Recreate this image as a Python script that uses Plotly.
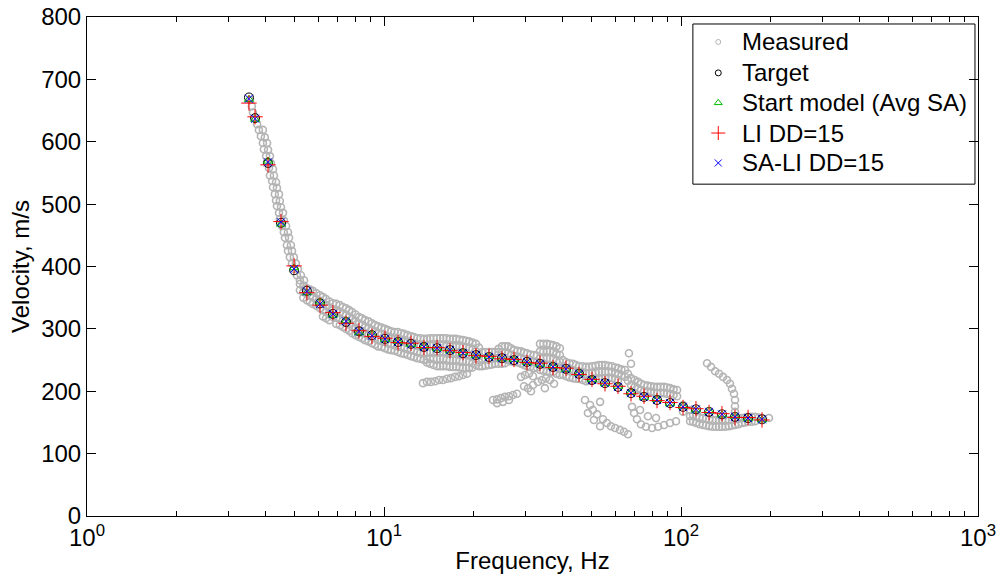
import plotly.graph_objects as go

# ---------------- model dispersion curves ----------------
model_freq = [3.51, 3.68, 4.07, 4.50, 4.98, 5.50, 6.09, 6.73, 7.45, 8.24,
              9.11, 10.08, 11.15, 12.33, 13.63, 15.09, 16.68, 18.45, 20.40, 22.57,
              24.96, 27.40, 30.30, 33.51, 37.07, 41.00, 45.35, 50.15, 55.47, 61.36,
              67.86, 75.06, 83.02, 91.83, 101.6, 112.3, 124.3, 137.4, 152.0, 168.2,
              187.4]
target_vel = [671, 638, 566, 470, 394, 361, 341, 324, 311, 296,
              290, 284, 279, 276, 271, 269, 266, 261, 258, 255,
              253, 250, 247, 244, 239, 236, 228, 218, 213, 207,
              197, 191, 186, 181, 175, 171, 167, 163, 159, 157, 155]
start_vel = [668, 636, 569, 468, 398, 358, 343, 322, 313, 294,
             291, 283, 280, 275, 272, 268, 265, 262, 257, 256,
             252, 251, 246, 243, 240, 235, 229, 219, 212, 208,
             198, 190, 187, 180, 176, 170, 168, 162, 160, 156, 154]
li_vel = [662, 640, 563, 472, 401, 358, 338, 326, 309, 297,
          288, 285, 278, 277, 270, 270, 265, 262, 257, 256,
          252, 251, 246, 245, 238, 237, 227, 219, 212, 208,
          196, 192, 185, 182, 174, 172, 166, 164, 158, 158, 154]
sali_vel = [669, 637, 567, 471, 396, 360, 340, 324, 312, 296,
            289, 284, 279, 275, 271, 269, 266, 261, 258, 255,
            253, 250, 247, 244, 239, 236, 228, 218, 213, 207,
            197, 191, 186, 181, 175, 171, 167, 163, 159, 157, 155]

# ---------------- measured dispersion data ----------------
# steep low-frequency branch (two neighbouring picks)
steep_f_a = [3.54, 3.59, 3.62, 3.68, 3.74, 3.79, 3.85, 3.91, 3.94, 4.01,
             4.04, 4.10, 4.13, 4.20, 4.23, 4.29, 4.33, 4.36, 4.43, 4.46,
             4.53, 4.60, 4.64, 4.71, 4.75, 4.82, 4.90, 4.97, 5.09, 5.21, 5.38]
steep_v_a = [667, 657, 647, 638, 628, 619, 609, 598, 588, 577,
             567, 558, 546, 537, 527, 516, 506, 497, 486, 476,
             465, 455, 446, 434, 425, 415, 405, 396, 386, 378, 369]
steep_f_b = [3.91, 3.97, 4.04, 4.07, 4.13, 4.16, 4.23, 4.26, 4.33, 4.36,
             4.43, 4.46, 4.50, 4.57, 4.60, 4.68, 4.75, 4.79, 4.86, 4.90,
             4.97, 5.05, 5.13, 5.25, 5.38]
steep_v_b = [619, 607, 598, 587, 577, 566, 556, 546, 535, 526,
             516, 505, 495, 486, 474, 465, 455, 446, 434, 425,
             415, 405, 396, 386, 378]

# fundamental-mode band: picks at each frequency
band_freq = [5.21, 5.50, 5.76, 6.09, 6.38, 6.73, 7.10, 7.45, 7.81, 8.24,
             8.63, 9.11, 9.54, 10.08, 10.56, 11.15, 11.68, 12.33, 12.92, 13.63,
             14.28, 15.09, 15.81, 16.68, 17.48, 18.45, 19.33, 20.40, 21.37, 22.57,
             23.65, 24.96, 26.15, 27.40, 28.93, 30.30, 31.99, 33.51, 35.4, 37.07,
             39.1, 41.00, 43.3, 45.35, 47.9, 50.15, 53.0, 55.47, 58.6, 61.36,
             64.8, 67.86, 71.7, 75.06, 79.3, 83.02, 87.7, 91.83, 97.0, 101.6,
             107.3, 112.3, 118.6, 124.3, 131.3, 137.4, 145.1, 152.0, 160.5, 168.2,
             177.6, 187.4, 197.7]
band_vel = [[372, 362], [365, 356, 346], [361, 351, 340], [354, 345, 333],
            [348, 338, 327, 317], [341, 330, 319], [338, 327, 316, 306],
            [333, 322, 311, 300], [327, 316, 304, 293], [319, 308, 296, 287],
            [314, 303, 292, 282], [309, 298, 287, 277], [304, 293, 282, 272],
            [300, 288, 279, 269], [296, 285, 276, 266], [295, 284, 272, 263],
            [292, 280, 269, 260], [288, 277, 266, 256], [285, 274, 263, 253],
            [284, 272, 261, 250], [285, 274, 263, 252, 244], [285, 274, 263, 252, 240],
            [285, 274, 263, 252, 240], [284, 272, 261, 250, 239], [284, 272, 261, 250, 239],
            [282, 271, 260, 248, 237], [280, 269, 258, 247, 237], [276, 264, 253, 242],
            [263, 252, 240], [263, 252, 242], [263, 253, 244], [272, 263, 253, 244],
            [272, 261, 250], [266, 256, 247], [264, 253, 244], [261, 250, 240],
            [258, 247, 237], [276, 264, 253, 244, 234], [276, 264, 253, 242, 232],
            [274, 263, 252, 240, 231], [269, 258, 247, 236, 226], [247, 236, 224],
            [244, 232, 221], [240, 231, 220], [239, 228, 216], [240, 229, 218],
            [242, 231, 220], [242, 231, 221], [240, 231, 221], [237, 228, 218],
            [234, 223], [221, 210], [215, 204], [210, 200], [208, 199],
            [207, 197], [207, 197], [205, 196], [202, 192], [178, 167],
            [170, 160, 152], [160, 149], [157, 146], [155, 144], [154, 143],
            [154, 143], [154, 144], [155, 146], [157, 149], [159, 151],
            [159, 152], [157], [157]]

# picks at the intermediate frequencies of the same band
band_freq_mid = [5.35, 5.63, 5.92, 6.23, 6.55, 6.91, 7.27, 7.63, 8.02, 8.43,
                 8.87, 9.32, 9.81, 10.32, 10.85, 11.41, 12.0, 12.62, 13.27, 13.95,
                 14.68, 15.45, 16.24, 17.08, 17.96, 18.89, 19.86, 20.88, 21.96, 23.1,
                 24.3, 25.55, 26.77, 28.15, 29.6, 31.1, 32.7, 34.4, 36.2, 38.1,
                 40.0, 42.1, 44.3, 46.6, 49.0, 51.6, 54.2, 57.0, 60.0, 63.0,
                 66.3, 69.8, 73.4, 77.1, 81.1, 85.3, 89.7, 94.4,
                 109.8, 115.4, 121.4, 127.7, 134.3, 141.2, 148.5, 156.2, 164.3, 172.8,
                 182.4]
band_vel_mid = [[368, 359, 350], [363, 353, 343], [357, 348, 337], [351, 341, 330, 320],
                [344, 334, 323, 314], [340, 329, 318, 308], [335, 324, 313, 303],
                [330, 319, 308, 297], [323, 312, 300, 290], [317, 306, 294, 285],
                [312, 301, 290, 280], [306, 296, 285, 275], [302, 291, 281, 271],
                [298, 287, 277, 267], [295, 284, 274, 265], [293, 282, 271, 261],
                [290, 279, 268, 258], [287, 276, 265, 255], [285, 273, 262, 252],
                [284, 273, 262, 251, 246], [285, 274, 263, 252, 242],
                [285, 274, 263, 252, 240], [285, 273, 262, 251, 240],
                [284, 272, 261, 250, 239], [283, 272, 261, 249, 238],
                [281, 270, 259, 248, 237], [278, 267, 256, 245, 238],
                [270, 258, 247, 240], [263, 252, 241], [263, 252, 243],
                [268, 263, 253, 244], [272, 262, 252, 245], [269, 258, 248],
                [265, 255, 246], [262, 251, 242], [259, 249, 239], [257, 247, 238],
                [276, 264, 253, 243, 233], [275, 264, 252, 241, 231],
                [272, 260, 249, 238, 228], [250, 239, 227], [245, 234, 222],
                [242, 231, 220], [240, 229, 218], [239, 229, 217], [241, 230, 219],
                [242, 231, 220], [241, 231, 221], [238, 229, 219], [235, 225],
                [228, 217], [218, 207], [212, 202], [209, 199], [207, 198],
                [207, 197], [206, 196], [203, 194],
                [162, 151], [158, 147], [156, 145], [154, 143], [154, 143],
                [154, 143], [154, 145], [156, 147], [158, 150], [159, 151],
                [158]]

# lower-velocity trails and scattered picks
trail_f = [13.53, 13.95, 14.39, 14.86, 15.32, 15.81, 16.30, 16.81, 17.34, 17.89, 18.45, 19.03]
trail_v = [213, 215, 215, 216, 218, 218, 220, 221, 223, 224, 226, 228]

scatter_f = [23.29, 24.02, 24.77, 25.55, 26.35, 27.19, 28.04, 24.02, 25.15, 26.35,
             28.93, 29.84, 30.77, 31.74, 29.61, 30.54, 31.74, 32.99, 34.03, 35.1,
             36.2, 37.36, 31.25, 34.8,
             47.5, 49.4, 50.5, 52.2, 53.4, 54.6, 56.3, 58.1, 60.0, 62.3,
             64.3, 66.3, 48.6, 50.9, 53.4,
             68.4, 69.5, 71.1, 73.3, 76.2, 79.9, 83.7, 87.7, 91.8, 96.2,
             72.8, 77.4, 82.4,
             66.8, 67.86]
scatter_v = [186, 187, 189, 191, 192, 194, 196, 181, 183, 186,
             223, 226, 228, 224, 208, 205, 210, 215, 218, 221,
             218, 212, 200, 205,
             186, 178, 170, 163, 183, 155, 149, 144, 141, 138,
             135, 131, 165, 154, 144,
             175, 165, 155, 147, 143, 141, 143, 146, 149, 152,
             170, 160, 157,
             261, 244]

hook_f = [122.4, 126.3, 130.3, 134.3, 138.5, 142.9, 146.2, 148.5, 150.8, 152.0, 152.0, 152.0]
hook_v = [245, 239, 232, 228, 223, 218, 212, 204, 196, 186, 176, 167]

# gather the measured picks into one series
meas_f = steep_f_a + steep_f_b + trail_f + scatter_f + hook_f
meas_v = steep_v_a + steep_v_b + trail_v + scatter_v + hook_v
for freqs, vels in ((band_freq, band_vel), (band_freq_mid, band_vel_mid)):
    for f, vs in zip(freqs, vels):
        meas_f += [f] * len(vs)
        meas_v += vs

# axis ticks
x_major = [1, 10, 100, 1000]
x_major_text = ["10<sup>0</sup>", "10<sup>1</sup>", "10<sup>2</sup>", "10<sup>3</sup>"]
x_minor = [2, 3, 4, 5, 6, 7, 8, 9, 20, 30, 40, 50, 60, 70, 80, 90,
           200, 300, 400, 500, 600, 700, 800, 900]
y_ticks = [0, 100, 200, 300, 400, 500, 600, 700, 800]

# legend content
legend_names = ["Measured", "Target", "Start model (Avg SA)", "LI DD=15", "SA-LI DD=15"]
legend_symbols = ["circle-open", "circle-open", "triangle-up-open", "cross-thin-open", "x-thin-open"]
legend_sizes = [5, 6, 7, 10, 7]

FONT = "Liberation Sans, Arial, sans-serif"
GRAY = "rgb(180,180,180)"
GREEN = "rgb(0,190,0)"
RED = "rgb(255,0,0)"
BLUE = "rgb(0,0,255)"
legend_colors = [GRAY, "black", GREEN, RED, BLUE]

fig = go.Figure()

fig.add_trace(go.Scatter(x=meas_f, y=meas_v, mode="markers", name="Measured",
                         marker=dict(symbol="circle-open", size=7, color=GRAY,
                                     line=dict(width=1.6, color=GRAY))))
fig.add_trace(go.Scatter(x=model_freq, y=target_vel, mode="markers", name="Target",
                         marker=dict(symbol="circle-open", size=9, color="black",
                                     line=dict(width=1, color="black"))))
fig.add_trace(go.Scatter(x=model_freq, y=start_vel, mode="markers", name="Start model (Avg SA)",
                         marker=dict(symbol="triangle-up-open", size=8, color=GREEN,
                                     line=dict(width=1, color=GREEN))))
fig.add_trace(go.Scatter(x=model_freq, y=li_vel, mode="markers", name="LI DD=15",
                         marker=dict(symbol="cross-thin-open", size=11, color=RED,
                                     line=dict(width=1, color=RED))))
fig.add_trace(go.Scatter(x=model_freq, y=sali_vel, mode="markers", name="SA-LI DD=15",
                         marker=dict(symbol="x-thin-open", size=8, color=BLUE,
                                     line=dict(width=1, color=BLUE))))

# legend box drawn in plot-area fractions
LEG_X0, LEG_X1, LEG_Y0, LEG_Y1 = 0.680, 0.9966, 0.665, 0.986
row_y = [0.950, 0.888, 0.828, 0.7675, 0.7075]
sym_x = 0.7085
text_x = 0.7325

fig.add_shape(type="rect", xref="paper", yref="paper",
              x0=LEG_X0, x1=LEG_X1, y0=LEG_Y0, y1=LEG_Y1,
              line=dict(color="black", width=1), fillcolor="white", layer="below")
for i, name in enumerate(legend_names):
    fig.add_trace(go.Scatter(x=[sym_x], y=[row_y[i]], xaxis="x2", yaxis="y2",
                             mode="markers", hoverinfo="skip",
                             marker=dict(symbol=legend_symbols[i], size=legend_sizes[i],
                                         color=legend_colors[i],
                                         line=dict(width=1, color=legend_colors[i]))))
    fig.add_annotation(x=text_x, y=row_y[i], xref="paper", yref="paper",
                       text=name, showarrow=False, xanchor="left", yanchor="middle",
                       font=dict(family=FONT, size=24, color="black"))

fig.update_layout(
    width=1004, height=588,
    margin=dict(l=87, r=26, t=17, b=72),
    paper_bgcolor="white", plot_bgcolor="white",
    font=dict(family=FONT, size=24, color="black"),
    showlegend=False,
    xaxis=dict(
        type="log", range=[0, 3], automargin=False,
        tickmode="array", tickvals=x_major, ticktext=x_major_text,
        ticks="inside", ticklen=9, tickwidth=1, tickcolor="black",
        minor=dict(tickmode="array", tickvals=x_minor, ticks="inside",
                   ticklen=5, tickwidth=1, tickcolor="black"),
        showline=True, linecolor="black", linewidth=1, mirror="ticks",
        showgrid=False, zeroline=False,
        tickfont=dict(family=FONT, size=24, color="black"),
        title=dict(text="Frequency, Hz", font=dict(family=FONT, size=24, color="black"),
                   standoff=2),
    ),
    yaxis=dict(
        range=[0, 800], tickmode="array", tickvals=y_ticks, automargin=False,
        ticks="inside", ticklen=9, tickwidth=1, tickcolor="black",
        showline=True, linecolor="black", linewidth=1, mirror="ticks",
        showgrid=False, zeroline=False,
        tickfont=dict(family=FONT, size=24, color="black"),
        title=dict(text="Velocity, m/s", font=dict(family=FONT, size=24, color="black"),
                   standoff=4),
    ),
    # overlay axes spanning the plot area, used for the legend symbols
    xaxis2=dict(overlaying="x", range=[0, 1], visible=False, fixedrange=True),
    yaxis2=dict(overlaying="y", range=[0, 1], visible=False, fixedrange=True),
)

fig.write_html("out.html")
